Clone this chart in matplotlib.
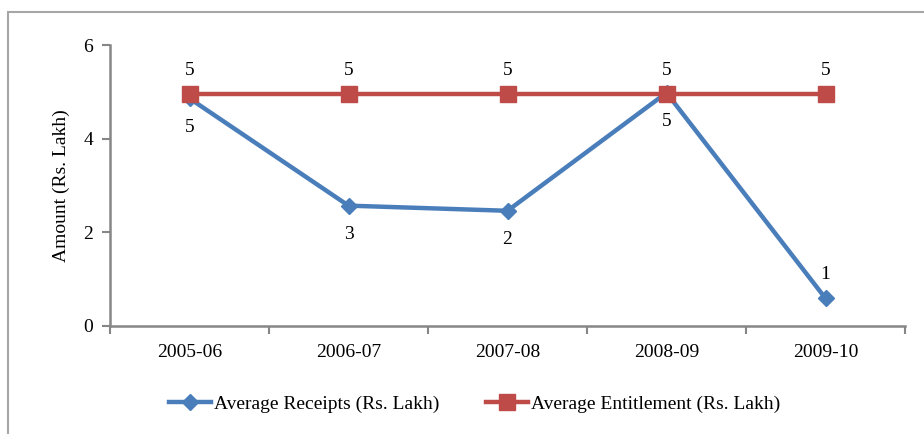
import matplotlib
matplotlib.use("Agg")
import matplotlib.pyplot as plt
from matplotlib.patches import Rectangle
from matplotlib.ticker import FixedLocator, NullFormatter

years = ["2005-06", "2006-07", "2007-08", "2008-09", "2009-10"]
receipts = [4.86, 2.57, 2.46, 4.98, 0.59]
entitlement = [4.96, 4.96, 4.96, 4.96, 4.96]
receipt_label_pos = ["below", "below", "below", "below", "above"]

plt.rcParams["font.family"] = ["Liberation Serif", "DejaVu Serif"]

BLUE = "#4A7EBB"
RED = "#BE4B48"
GRAY = "#868686"
FS = 14

fig = plt.figure(figsize=(9.24, 4.34), dpi=100)
fig.patches.append(Rectangle((8 / 924, -0.1), 1.2, 1 - 12 / 434 + 0.1,
                             transform=fig.transFigure, fill=False,
                             edgecolor="#A6A6A6", linewidth=1.5))

ax = fig.add_axes([110 / 924, 1 - 326 / 434, 795 / 924, 281 / 434])
x = list(range(len(years)))

ax.plot(x, receipts, color=BLUE, lw=3.2, marker="D", ms=8,
        label="Average Receipts (Rs. Lakh)", zorder=3)
ax.plot(x, entitlement, color=RED, lw=3.2, marker="s", ms=11,
        label="Average Entitlement (Rs. Lakh)", zorder=4)

for xi, v in zip(x, entitlement):
    ax.annotate(f"{v:.0f}", (xi, v), xytext=(0, 17), textcoords="offset points",
                ha="center", va="center", fontsize=FS)
for xi, v, pos in zip(x, receipts, receipt_label_pos):
    dy = -21 if pos == "below" else 17
    ax.annotate(f"{v:.0f}", (xi, v), xytext=(0, dy), textcoords="offset points",
                ha="center", va="center", fontsize=FS)

ax.set_xlim(-0.5, len(years) - 0.5)
ax.set_ylim(0, 6)
ax.set_yticks([0, 2, 4, 6])
ax.set_xticks(x)
ax.set_xticklabels(years)
ax.xaxis.set_minor_locator(FixedLocator([i - 0.5 for i in range(len(years) + 1)]))
ax.xaxis.set_minor_formatter(NullFormatter())
ax.tick_params(axis="x", which="major", length=0, pad=13, labelsize=FS)
ax.tick_params(axis="x", which="minor", length=6, width=1.5, color=GRAY)
ax.tick_params(axis="y", length=6, width=1.5, color=GRAY, labelsize=FS, pad=6)

for side in ("top", "right"):
    ax.spines[side].set_visible(False)
for side in ("left", "bottom"):
    ax.spines[side].set_color(GRAY)
    ax.spines[side].set_linewidth(1.8)

ax.set_ylabel("Amount (Rs. Lakh)", fontsize=FS, labelpad=10)

fig.legend(loc="center", bbox_to_anchor=(475 / 924, 1 - 404 / 434), ncol=2,
           frameon=False, fontsize=FS, handlelength=2.16, handletextpad=0.15,
           columnspacing=2.4)

fig.savefig("out.png", dpi=100)
